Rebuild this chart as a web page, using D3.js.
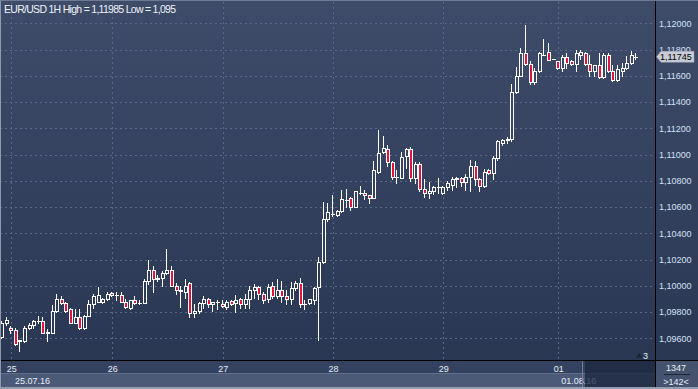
<!DOCTYPE html>
<html><head><meta charset="utf-8">
<script src="https://cdn.jsdelivr.net/npm/d3@7"></script>
<style>body{margin:0;background:#2e3b56;} svg{display:block;font-family:"Liberation Sans",Arial,sans-serif;}</style>
</head><body><svg id="c" width="698" height="389"></svg>
<script>
const title = "EUR/USD 1H High = 1,11985 Low = 1,095";
const dayLabels = ["25","26","27","28","29","01"];
const dayIndex = [2,24,48,72,96,121];
const dateLabels = ["25.07.16","01.08.16"];
const priceTicks = [1.096,1.098,1.100,1.102,1.104,1.106,1.108,1.110,1.112,1.114,1.116,1.118,1.120];
const lastPrice = 1.11745;
const opens = [
1.0961,1.0972,1.0968,1.0966,1.0958,1.0958,1.0968,1.0970,1.0973,1.0973,
1.0965,1.0964,1.0981,1.0990,1.0987,1.0982,1.0972,1.0976,1.0968,1.0977,
1.0986,1.0988,1.0988,1.0990,1.09944,1.0993,1.0993,1.0988,1.0983,1.0989,
1.0987,1.0987,1.1004,1.1012,1.1005,1.1006,1.1010,1.1012,1.1000,1.0997,
1.0995,1.1002,1.0979,1.0981,1.0987,1.0990,1.0986,1.0988,1.09865,1.0984,
1.09882,1.0987,1.0990,1.0986,1.0990,1.0997,1.0999,1.0994,1.0990,1.1000,
1.0992,1.0997,1.0992,1.0990,1.0998,1.1002,1.0986,1.0987,1.0989,1.0999,
1.1018,1.1051,1.1055,1.1054,1.1057,1.1065,1.1067,1.1060,1.1071,1.1071,
1.1069,1.1067,1.1087,1.1102,1.1104,1.1094,1.1083,1.1082,1.1099,1.1104,
1.1082,1.1093,1.1074,1.1071,1.1072,1.1075,1.1071,1.1075,1.1077,1.1081,
1.1082,1.1079,1.1083,1.1091,1.1081,1.1076,1.1088,1.1086,1.1097,1.1109,
1.1111,1.1112,1.1148,1.1160,1.1177,1.1169,1.1155,1.1164,1.1176,1.1178,
1.1173,1.1171,1.1166,1.1174,1.1171,1.1169,1.1176,1.1177,1.1169,1.1164,
1.1168,1.1159,1.1176,1.1164,1.1157,1.1164,1.1166,1.1170,1.11745];
const highs = [
1.0973,1.0976,1.0969,1.0968,1.0959,1.0969,1.0972,1.0974,1.0977,1.0976,
1.0967,1.0985,1.0994,1.0992,1.0988,1.0983,1.0982,1.0982,1.0978,1.0989,
1.0994,1.0999,1.0991,1.0995,1.0995,1.0995,1.0995,1.0990,1.0989,1.0992,
1.0989,1.1005,1.1020,1.1015,1.1008,1.1011,1.1028,1.1015,1.1002,1.1000,
1.1005,1.1003,1.0986,1.0988,1.0992,1.0991,1.0988,1.0989,1.0989,1.0989,
1.0989,1.0993,1.0991,1.0994,1.1000,1.1001,1.1000,1.0995,1.1001,1.1003,
1.1005,1.1004,1.0997,1.1003,1.1004,1.1006,1.0989,1.0990,1.0999,1.1022,
1.1064,1.1063,1.1069,1.1058,1.1073,1.1074,1.1068,1.1072,1.1076,1.1073,
1.1069,1.1095,1.1119,1.1114,1.1107,1.1095,1.1088,1.1102,1.1105,1.1106,
1.1094,1.1094,1.1081,1.1079,1.1076,1.1082,1.1076,1.1080,1.1083,1.1083,
1.1083,1.1085,1.1096,1.1095,1.1082,1.1089,1.1089,1.1099,1.1111,1.1112,
1.1113,1.1154,1.1167,1.1181,1.11985,1.1171,1.1166,1.1178,1.1188,1.1185,
1.1173,1.1171,1.1176,1.1177,1.1172,1.1180,1.1180,1.1178,1.1176,1.1168,
1.1177,1.1177,1.1177,1.1168,1.1168,1.1170,1.1175,1.1179,1.1177];
const lows = [
1.0960,1.0970,1.0964,1.0955,1.0950,1.0957,1.0967,1.0968,1.0972,1.0964,
1.0958,1.0964,1.0980,1.0986,1.0980,1.0972,1.0972,1.0967,1.0967,1.0977,
1.0983,1.0988,1.0987,1.0989,1.0992,1.0989,1.0988,1.0983,1.0982,1.0986,
1.0986,1.0987,1.1001,1.0995,1.1004,1.1000,1.1009,1.1000,1.0994,1.0984,
1.0991,1.0976,1.0976,1.0979,1.0983,1.0984,1.0981,1.0982,1.0984,1.0982,
1.0985,1.0980,1.0983,1.0983,1.0983,1.0991,1.0990,1.0987,1.0988,1.0991,
1.0991,1.0988,1.0986,1.0986,1.0997,1.0984,1.0982,1.0986,1.0986,1.0959,
1.1017,1.1049,1.1053,1.1053,1.1056,1.1060,1.1058,1.1060,1.1070,1.1066,
1.1063,1.1067,1.1086,1.1101,1.1091,1.1081,1.1078,1.1082,1.1090,1.1080,
1.1078,1.1072,1.1068,1.1067,1.1070,1.1071,1.1070,1.1073,1.1073,1.1075,
1.1076,1.1073,1.1072,1.1077,1.1072,1.1075,1.1085,1.1081,1.1096,1.1107,
1.1109,1.1110,1.1147,1.1160,1.1168,1.1154,1.1154,1.1163,1.1176,1.1172,
1.1173,1.1165,1.1164,1.1166,1.1168,1.1164,1.1173,1.1168,1.1160,1.1160,
1.1158,1.1158,1.1163,1.1156,1.1156,1.1160,1.1165,1.1169,1.1173];
const closes = [
1.0972,1.0974,1.0966,1.0956,1.09585,1.0968,1.0970,1.0973,1.0973,1.0964,
1.0964,1.0981,1.0990,1.0987,1.0981,1.0972,1.0976,1.0968,1.0977,1.0986,
1.0992,1.0993,1.0990,1.0994,1.09928,1.0993,1.0988,1.0984,1.0989,1.0987,
1.0987,1.1004,1.1012,1.1005,1.1006,1.1010,1.1012,1.1000,1.0997,1.0996,
1.1000,1.0979,1.0981,1.0987,1.0990,1.0986,1.09875,1.0988,1.09844,1.0988,
1.09865,1.0989,1.0986,1.0990,1.0997,1.0999,1.0994,1.0989,1.0999,1.0992,
1.0997,1.0992,1.0990,1.0998,1.1002,1.0986,1.0986,1.0990,1.0998,1.1018,
1.1051,1.1056,1.1055,1.1057,1.1066,1.1065,1.1060,1.1072,1.1071,1.1069,
1.1067,1.1088,1.1101,1.1105,1.1094,1.1083,1.1083,1.1098,1.1104,1.1082,
1.1093,1.1074,1.1071,1.1072,1.1075,1.1075,1.1075,1.1078,1.1081,1.1082,
1.1079,1.1083,1.1091,1.1081,1.1076,1.1087,1.1086,1.1097,1.1110,1.1111,
1.1112,1.1148,1.1160,1.1177,1.1169,1.1155,1.1164,1.1177,1.1176,1.1172,
1.1173,1.1166,1.1174,1.1170,1.1169,1.1177,1.1178,1.1169,1.1164,1.1168,
1.1159,1.1176,1.1164,1.1157,1.1165,1.1166,1.1170,1.1176,1.11745];

const W = 698, H = 389;
const svg = d3.select("#c");
const defs = svg.append("defs");
const grad = defs.append("linearGradient").attr("id","bg").attr("gradientUnits","userSpaceOnUse")
  .attr("x1",0).attr("y1",0).attr("x2",0).attr("y2",360);
grad.append("stop").attr("offset","0").attr("stop-color","#3e4c6a");
grad.append("stop").attr("offset","1").attr("stop-color","#2a3753");
svg.append("rect").attr("width",W).attr("height",H).attr("fill","url(#bg)");

const x = d3.scaleLinear().domain([0, opens.length - 1]).range([2, 636.4]);
const y = d3.scaleLinear().domain([1.096, 1.12]).range([338.3, 23.3]);
const px = v => Math.round(v) + 0.5;
const fmt = v => d3.format(".5f")(v).replace(".", ",");

// grid
const grid = svg.append("g").attr("stroke","#586889").attr("stroke-dasharray","2,3").attr("stroke-width",1);
grid.selectAll("line.h").data(priceTicks).join("line").attr("class","h")
  .attr("x1",0).attr("x2",654).attr("y1",d=>px(y(d))).attr("y2",d=>px(y(d)));
grid.selectAll("line.v").data(dayIndex).join("line").attr("class","v")
  .attr("x1",d=>px(x(d))).attr("x2",d=>px(x(d))).attr("y1",2).attr("y2",360);

// title
svg.append("text").attr("x",4).attr("y",12.5).attr("font-size","10.5px").attr("fill","#eef2fa")
  .attr("textLength",172).attr("lengthAdjust","spacing").text(title);

// candles
const candles = opens.map((o,i)=>({i, o, h:highs[i], l:lows[i], c:closes[i]}));
const cg = svg.append("g");
cg.selectAll("line.wick").data(candles).join("line").attr("class","wick")
  .attr("x1",d=>Math.round(x(d.i))-0.5).attr("x2",d=>Math.round(x(d.i))-0.5)
  .attr("y1",d=>Math.round(y(d.h))).attr("y2",d=>Math.round(y(d.l))+1)
  .attr("stroke","#ffffff").attr("stroke-width",1);
const bodies = candles.map(d=>{
  const top = Math.round(y(Math.max(d.o,d.c))), bot = Math.round(y(Math.min(d.o,d.c)));
  return Object.assign({top, bot, up: d.c >= d.o}, d);
});
cg.selectAll("rect.body").data(bodies.filter(b=>b.bot-b.top>=1)).join("rect").attr("class","body")
  .attr("x",d=>Math.round(x(d.i))-1.5).attr("width",3)
  .attr("y",d=>d.top+0.5).attr("height",d=>d.bot-d.top)
  .attr("fill",d=>d.up ? "url(#bg)" : "#e0153d").attr("stroke","#ffffff").attr("stroke-width",1);
cg.selectAll("line.doji").data(bodies.filter(b=>b.bot-b.top<1)).join("line").attr("class","doji")
  .attr("x1",d=>Math.round(x(d.i))-2).attr("x2",d=>Math.round(x(d.i))+2)
  .attr("y1",d=>d.top+0.5).attr("y2",d=>d.top+0.5)
  .attr("stroke","#ffffff").attr("stroke-width",1);

// right axis
svg.append("line").attr("x1",655.5).attr("x2",655.5).attr("y1",0).attr("y2",H).attr("stroke","#000");
svg.selectAll("text.py").data(priceTicks).join("text").attr("class","py")
  .attr("x",659).attr("y",d=>y(d)+3.3).attr("font-size","9px").attr("fill","#d3e1f5").text(fmt);

// last price tag
const ly = y(lastPrice);
svg.append("path")
  .attr("d",`M656.5,${ly} L661,${ly-5.5} L694,${ly-5.5} L694,${ly+5.5} L661,${ly+5.5} Z`)
  .attr("fill","#c8ccd6").attr("stroke","#9aa0ac").attr("stroke-width",0.5);
svg.append("text").attr("x",660).attr("y",ly+3.3).attr("font-size","9px").attr("fill","#000").text(fmt(lastPrice));

// bottom band
svg.append("rect").attr("x",0).attr("y",361).attr("width",655).attr("height",13).attr("fill","#35425f");
svg.append("rect").attr("x",0).attr("y",374).attr("width",655).attr("height",13).attr("fill","#4b5a77");
svg.append("line").attr("x1",0).attr("x2",655).attr("y1",373.5).attr("y2",373.5).attr("stroke","#5f6f8c");
svg.append("line").attr("x1",0).attr("x2",W).attr("y1",360.5).attr("y2",360.5).attr("stroke","#000");

svg.selectAll("text.dx").data(dayIndex).join("text").attr("class","dx")
  .attr("x",d=>x(d)+0.5).attr("y",371.5).attr("text-anchor","middle")
  .attr("font-size","9px").attr("fill","#e6edf8").text((d,i)=>dayLabels[i]);
svg.selectAll("text.dl").data(dateLabels).join("text").attr("class","dl")
  .attr("x",(d,i)=> i===0 ? 15 : x(dayIndex[5])+3).attr("y",383.5)
  .attr("font-size","9px").attr("fill","#e6edf8").text(d=>d);

// navigator overlay
svg.append("rect").attr("x",585).attr("y",361).attr("width",70).attr("height",28).attr("fill","#1c2740").attr("opacity",0.78);
svg.append("line").attr("x1",582.5).attr("x2",582.5).attr("y1",361).attr("y2",387).attr("stroke","#6f7f9c");

// bottom-right box
svg.append("rect").attr("x",656).attr("y",361).attr("width",42).attr("height",28).attr("fill","#45526e");
svg.append("text").attr("x",676).attr("y",370.5).attr("text-anchor","middle").attr("font-size","9px").attr("fill","#e6edf8").text("1347");
svg.append("line").attr("x1",664).attr("x2",690).attr("y1",374.5).attr("y2",374.5).attr("stroke","#1e2538");
svg.append("text").attr("x",676).attr("y",384.5).attr("text-anchor","middle").attr("font-size","9px").attr("fill","#e6edf8").text(">142<");

// marker "3"
svg.append("path").attr("d","M636,357.5 L642,357.5 L639,353 Z").attr("fill","#1a2234");
svg.append("text").attr("x",643).attr("y",358.5).attr("font-size","9px").attr("fill","#e6edf8").text("3");

// frame
svg.append("rect").attr("x",0).attr("y",0).attr("width",1).attr("height",H).attr("fill","#8e99b0");
svg.append("rect").attr("x",0).attr("y",0).attr("width",W).attr("height",1).attr("fill","#6c7a96");
svg.append("rect").attr("x",0).attr("y",387).attr("width",W).attr("height",2).attr("fill","#939db1");
</script></body></html>
